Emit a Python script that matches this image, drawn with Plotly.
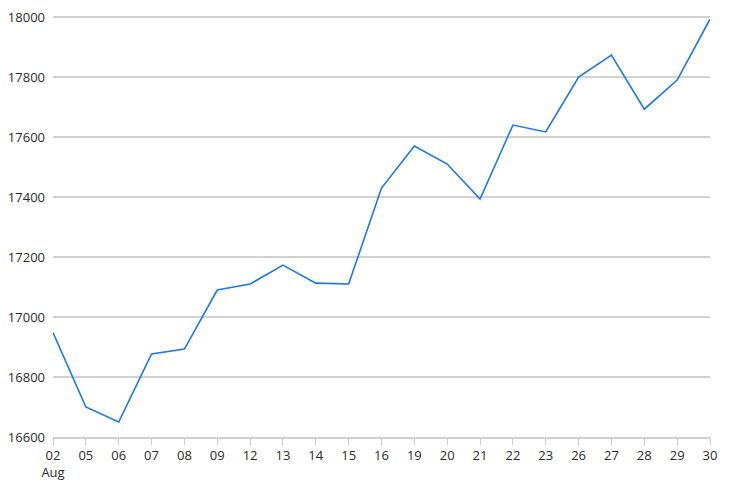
import plotly.graph_objects as go

days = ["02", "05", "06", "07", "08", "09", "12", "13", "14", "15", "16",
        "19", "20", "21", "22", "23", "26", "27", "28", "29", "30"]
tick_labels = ["02<br>Aug"] + days[1:]
values = [16948, 16700, 16650, 16877, 16893, 17090, 17110, 17173, 17113, 17110,
          17430, 17570, 17510, 17393, 17640, 17617, 17800, 17873, 17693, 17790, 17993]
y_ticks = [16600, 16800, 17000, 17200, 17400, 17600, 17800, 18000]

x_idx = list(range(len(days)))

fig = go.Figure()
fig.add_trace(go.Scatter(x=x_idx, y=values, mode="lines",
                         line=dict(color="#1976f2", width=1.6),
                         hoverinfo="y"))

# page body adds an 8px margin, so the figure is sized to compensate
fig.update_layout(
    width=721, height=484,
    margin=dict(l=45, r=19, t=7, b=55, autoexpand=False),
    paper_bgcolor="white", plot_bgcolor="white",
    font=dict(family="Open Sans", size=13, color="#2a2a2a"),
    showlegend=False,
)
fig.update_xaxes(
    tickmode="array", tickvals=x_idx, ticktext=tick_labels,
    range=[0, len(days) - 1],
    showgrid=False, zeroline=False,
    showline=True, linecolor="#d0d0d0", linewidth=1.6,
    ticks="outside", ticklen=6, tickcolor="#cccccc", tickwidth=1,
)
fig.update_yaxes(
    range=[16600, 18007], tickmode="array", tickvals=y_ticks,
    tickformat="d", ticklabeloverflow="allow",
    showgrid=True, gridcolor="#d2d2d2", gridwidth=1.6,
    zeroline=False, showline=False, ticks="", ticklabelstandoff=7,
)

fig.write_html("out.html")
